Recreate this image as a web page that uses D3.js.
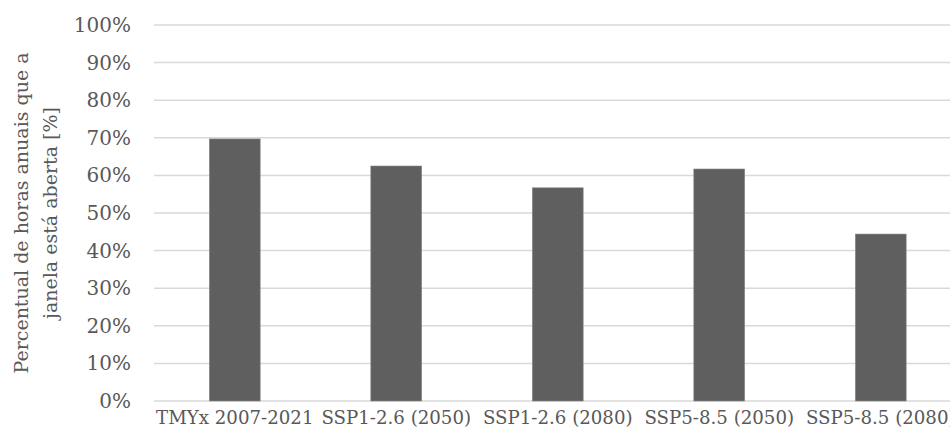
<!DOCTYPE html>
<html>
<head>
<meta charset="utf-8">
<script src="https://cdn.jsdelivr.net/npm/d3@7"></script>
<style>
  html, body { margin: 0; padding: 0; background: #fff; overflow: hidden; }
  svg { display: block; }
  text { font-family: "DejaVu Serif", "Liberation Serif", serif; fill: #595959; }
</style>
</head>
<body>
<svg id="chart" width="950" height="437"></svg>
<script>
// Scenarios and share of annual hours with the window open
const categories = ["TMYx 2007-2021", "SSP1-2.6 (2050)", "SSP1-2.6 (2080)", "SSP5-8.5 (2050)", "SSP5-8.5 (2080)"];
const values = [0.697, 0.625, 0.567, 0.617, 0.444];
const yTicks = [0, 0.1, 0.2, 0.3, 0.4, 0.5, 0.6, 0.7, 0.8, 0.9, 1.0];
const yTitleLines = ["Percentual de horas anuais que a", "janela está aberta [%]"];

const svg = d3.select("#chart");
const plot = { left: 154, right: 961.5, top: 25, bottom: 401 };

const x = d3.scaleBand()
  .domain(categories)
  .range([plot.left, plot.right])
  .paddingInner(0.685)
  .paddingOuter(0.3425);

const y = d3.scaleLinear()
  .domain([0, 1])
  .range([plot.bottom, plot.top]);

// Horizontal gridlines
svg.append("g")
  .selectAll("line")
  .data(yTicks)
  .join("line")
  .attr("x1", plot.left)
  .attr("x2", plot.right)
  .attr("y1", d => y(d))
  .attr("y2", d => y(d))
  .attr("stroke", "#d9d9d9")
  .attr("stroke-width", 1.5);

// Y axis tick labels
const yAxis = d3.axisLeft(y)
  .tickValues(yTicks)
  .tickFormat(d3.format(".0%"))
  .tickSize(0)
  .tickPadding(0);

svg.append("g")
  .attr("transform", `translate(131,0)`)
  .call(yAxis)
  .call(g => g.select(".domain").remove())
  .call(g => g.selectAll("text")
    .attr("fill", "#595959")
    .style("font-family", '"DejaVu Serif", "Liberation Serif", serif')
    .style("font-size", "20px"));

// Bars
svg.append("g")
  .selectAll("rect")
  .data(categories)
  .join("rect")
  .attr("x", d => x(d))
  .attr("width", x.bandwidth())
  .attr("y", (d, i) => y(values[i]))
  .attr("height", (d, i) => y(0) - y(values[i]))
  .attr("fill", "#5f5f5f")
  .attr("stroke", "#8a8a8a")
  .attr("stroke-width", 0.6);

// X axis category labels (the last one runs past the right edge)
const xAxis = d3.axisBottom(x).tickSize(0).tickPadding(0);
svg.append("g")
  .attr("transform", `translate(0,${plot.bottom + 10})`)
  .call(xAxis)
  .call(g => g.select(".domain").remove())
  .call(g => g.selectAll("text")
    .attr("fill", "#595959")
    .attr("dy", "0.71em")
    .style("font-family", '"DejaVu Serif", "Liberation Serif", serif')
    .style("font-size", "18.2px"));

// Y axis title, two lines rotated
const title = svg.append("text")
  .attr("transform", `translate(35,${(plot.top + plot.bottom) / 2}) rotate(-90)`)
  .attr("text-anchor", "middle")
  .style("font-size", "19px");
title.selectAll("tspan")
  .data(yTitleLines)
  .join("tspan")
  .attr("x", 0)
  .attr("dy", (d, i) => i === 0 ? "-0.35em" : "1.5em")
  .text(d => d);
</script>
</body>
</html>
